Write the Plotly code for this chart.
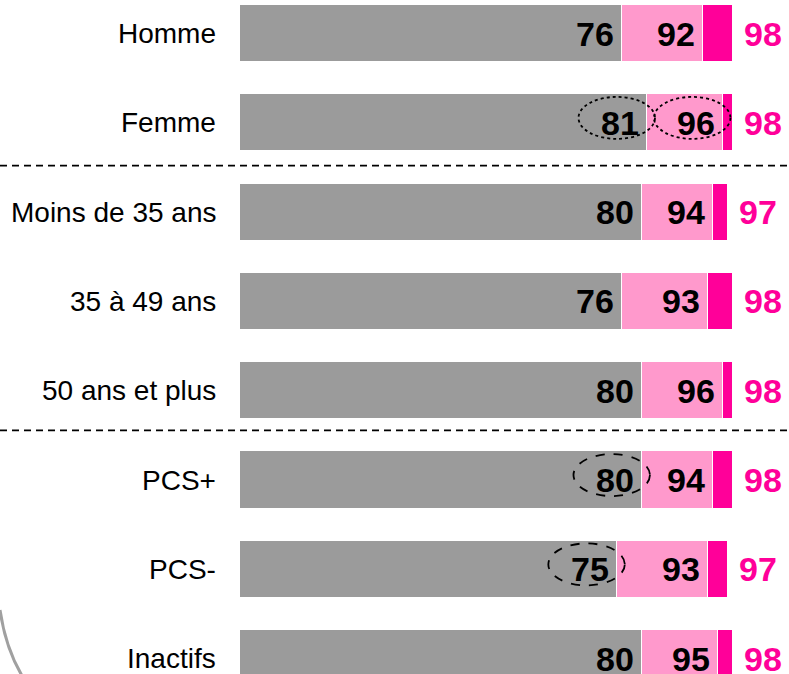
import plotly.graph_objects as go

categories = ["Homme", "Femme", "Moins de 35 ans", "35 à 49 ans", "50 ans et plus",
              "PCS+", "PCS-", "Inactifs"]
level1 = [76, 81, 80, 76, 80, 80, 75, 80]   # grey
level2 = [92, 96, 94, 93, 96, 94, 93, 95]   # pink (cumulative)
level3 = [98, 98, 97, 98, 98, 98, 97, 98]   # magenta (cumulative)

# highlighted labels: (category index, level, line style)
highlights = [(1, 1, "dot"), (1, 2, "dot"), (5, 1, "dash"), (6, 1, "dash")]
# group separators after these category indices (with small vertical nudge)
separators_after = [(1, -0.02), (4, -0.055)]

GREY = "#9B9B9B"
PINK = "#FF99CC"
MAGENTA = "#FF0099"
FONT = "Liberation Sans, Arial, sans-serif"

W, H = 789, 674
PX_PER_UNIT = 5.03
X0_PX = 240
ROW_PX = 89.3
FIRST_ROW_PX = 33.5

x_range = [-X0_PX / PX_PER_UNIT, (W - X0_PX) / PX_PER_UNIT]
y_top = -FIRST_ROW_PX / ROW_PX
y_bot = y_top + H / ROW_PX

ypos = list(range(len(categories)))
seg2 = [b - a for a, b in zip(level1, level2)]
seg3 = [c - b for b, c in zip(level2, level3)]

fig = go.Figure()
for vals, col in [(level1, GREY), (seg2, PINK), (seg3, MAGENTA)]:
    fig.add_trace(go.Bar(
        y=ypos, x=vals, orientation="h", marker_color=col,
        marker_line_color="white", marker_line_width=1.5,
        width=0.64, hoverinfo="skip", showlegend=False))

ann = []
for i, cat in enumerate(categories):
    ann.append(dict(x=0, y=i, text=cat, xanchor="right", yanchor="middle", xshift=-22,
                    showarrow=False, font=dict(family=FONT, size=28, color="black")))
    ann.append(dict(x=level1[i], y=i, text="<b>%d</b>" % level1[i], xanchor="right",
                    yanchor="middle", xshift=-6, showarrow=False,
                    font=dict(family=FONT, size=34, color="black")))
    ann.append(dict(x=level2[i], y=i, text="<b>%d</b>" % level2[i], xanchor="right",
                    yanchor="middle", xshift=-6, showarrow=False,
                    font=dict(family=FONT, size=34, color="black")))
    ann.append(dict(x=level3[i], y=i, text="<b>%d</b>" % level3[i], xanchor="left",
                    yanchor="middle", xshift=9, showarrow=False,
                    font=dict(family=FONT, size=34, color=MAGENTA)))

shapes = []
for s, nudge in separators_after:
    yy = s + 0.5 + nudge
    shapes.append(dict(type="line", xref="paper", x0=0, x1=1, yref="y", y0=yy, y1=yy,
                       line=dict(color="black", width=1.7, dash="7px,5px")))

for ci, lvl, dash in highlights:
    v = level1[ci] if lvl == 1 else level2[ci]
    cx = v - 6.1
    cy = ci - 0.055
    shapes.append(dict(type="circle", xref="x", yref="y",
                       x0=cx - 7.6, x1=cx + 7.6, y0=cy - 0.235, y1=cy + 0.235,
                       line=dict(color="black", width=1.8, dash=dash)))

# decorative frame corner (bottom-left)
shapes.append(dict(type="path", xref="paper", yref="paper",
                   path="M %f,%f Q %f,%f %f,%f" % (0 / W, 1 - 610 / H, 6 / W, 1 - 652 / H,
                                                  26 / W, 1 - 682 / H),
                   line=dict(color="#A0A0A0", width=3)))

fig.update_layout(
    width=W, height=H, barmode="stack", bargap=0,
    margin=dict(l=0, r=0, t=0, b=0),
    plot_bgcolor="white", paper_bgcolor="white",
    xaxis=dict(range=x_range, visible=False, fixedrange=True),
    yaxis=dict(range=[y_bot, y_top], visible=False, fixedrange=True),
    annotations=ann, shapes=shapes,
)

fig.write_html("out.html", config={"displayModeBar": False},
               post_script="document.body.style.margin='0';document.body.style.overflow='hidden';")
